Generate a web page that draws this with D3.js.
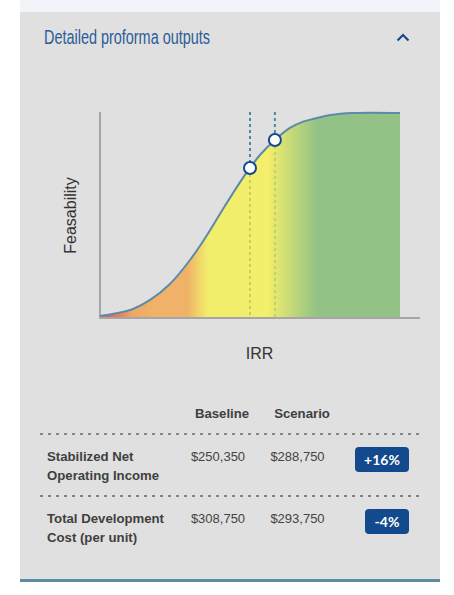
<!DOCTYPE html>
<html><head><meta charset="utf-8">
<script src="https://cdn.jsdelivr.net/npm/d3@7"></script>
<style>html,body{margin:0;padding:0;background:#fff;overflow:hidden}svg{display:block}text{font-family:"Liberation Sans",Arial,sans-serif}</style>
</head><body><svg id="c" width="454" height="595"></svg>
<script>
const irr = [0, 5, 11, 16.7, 23.3, 30, 35.7, 41, 46.7, 50, 53.3, 58.3, 63.3, 67.7, 71.7, 76.7, 84.3, 100];
const feas = [1, 2.2, 4.4, 8.8, 16.6, 28.3, 40.5, 53.2, 66.3, 73.2, 79.5, 86.8, 92.7, 95.8, 97.3, 99, 100, 100];
const markerIrr = [50, 58.3];
const markerFeas = [73.2, 86.8];
const rowLabels = [["Stabilized Net", "Operating Income"], ["Total Development", "Cost (per unit)"]];
const baseline = ["$250,350", "$308,750"];
const scenario = ["$288,750", "$293,750"];
const changes = ["+16%", "-4%"];
const columns = ["Baseline", "Scenario"];

const svg = d3.select("#c");
svg.append("rect").attr("x",20).attr("y",0).attr("width",420).attr("height",12).attr("fill","#f1f5f9");
svg.append("rect").attr("x",20).attr("y",12).attr("width",420).attr("height",567).attr("fill","#e0e0e0");
svg.append("rect").attr("x",20).attr("y",579).attr("width",420).attr("height",3).attr("fill","#5b8ba3");

svg.append("text").attr("x",44).attr("y",44).attr("font-size",20.5).attr("fill","#2a5d98")
  .attr("textLength",166).attr("lengthAdjust","spacingAndGlyphs")
  .style("font-family",'"Liberation Sans Narrow","Liberation Sans",sans-serif').text("Detailed proforma outputs");
svg.append("path").attr("d",d3.line()([[397.5,40.5],[403,35],[408.5,40.5]])).attr("fill","none").attr("stroke","#134a8e").attr("stroke-width",2.2);

const x = d3.scaleLinear().domain([0,100]).range([100,400]);
const y = d3.scaleLinear().domain([0,100]).range([318,113]);
const defs = svg.append("defs");
const grad = defs.append("linearGradient").attr("id","g").attr("gradientUnits","userSpaceOnUse")
  .attr("x1",x(0)).attr("x2",x(100)).attr("y1",0).attr("y2",0);
[[3,"#e8605a"],[11,"#eea864"],[18,"#efb268"],[29,"#efb268"],[36,"#f2ee6c"],[56,"#f3ee6c"],[72.5,"#92c285"],[100,"#92c285"]]
  .forEach(([o,c])=>grad.append("stop").attr("offset",o+"%").attr("stop-color",c));

const pts = irr.map((d,i)=>[d,feas[i]]);
const cv = d3.curveCatmullRom.alpha(0.5);
svg.append("path").attr("fill","url(#g)")
  .attr("d",d3.area().x(d=>x(d[0])).y0(y(0)).y1(d=>y(d[1])).curve(cv)(pts));

markerIrr.forEach((m,i)=>{
  svg.append("line").attr("x1",x(m)).attr("x2",x(m)).attr("y1",112).attr("y2",y(markerFeas[i]))
    .attr("stroke","#4f86a6").attr("stroke-width",2).attr("stroke-dasharray","3 3");
  svg.append("line").attr("x1",x(m)).attr("x2",x(m)).attr("y1",y(markerFeas[i])).attr("y2",318)
    .attr("stroke","#bfd263").attr("stroke-width",2).attr("stroke-dasharray","3 3");
});

svg.append("line").attr("x1",100).attr("x2",100).attr("y1",112).attr("y2",319).attr("stroke","#a6a6a6").attr("stroke-width",2);
svg.append("line").attr("x1",99).attr("x2",420).attr("y1",318).attr("y2",318).attr("stroke","#a6a6a6").attr("stroke-width",2);
svg.append("path").attr("fill","none").attr("stroke","#5b8ba8").attr("stroke-width",2)
  .attr("d",d3.line().x(d=>x(d[0])).y(d=>y(d[1])).curve(cv)(pts));

markerIrr.forEach((m,i)=>svg.append("circle").attr("cx",x(m)).attr("cy",y(markerFeas[i])).attr("r",6)
  .attr("fill","#fff").attr("stroke","#134a8e").attr("stroke-width",2));

svg.append("text").attr("x",259.5).attr("y",358.5).attr("text-anchor","middle").attr("font-size",16).attr("fill","#333").text("IRR");
svg.append("text").attr("transform","translate(75.5,215.5) rotate(-90)").attr("text-anchor","middle").attr("font-size",16).attr("fill","#333").text("Feasability");

const colX = [222,302];
columns.forEach((c,i)=>svg.append("text").attr("x",colX[i]).attr("y",418).attr("text-anchor","middle")
  .attr("font-size",13.2).attr("font-weight",700).attr("fill","#3f3f3f").text(c));

[434,496].forEach(v=>svg.append("line").attr("x1",40).attr("x2",420).attr("y1",v).attr("y2",v)
  .attr("stroke","#666").attr("stroke-width",1.5).attr("stroke-dasharray","3 5"));

const rowY = [461,523];
rowLabels.forEach((ls,i)=>{
  ls.forEach((l,j)=>svg.append("text").attr("x",47).attr("y",rowY[i]+j*19).attr("font-size",13.2)
    .attr("font-weight",700).attr("fill","#3f3f3f").text(l));
  svg.append("text").attr("x",218).attr("y",rowY[i]).attr("text-anchor","middle").attr("font-size",13).attr("fill","#444").text(baseline[i]);
  svg.append("text").attr("x",297.5).attr("y",rowY[i]).attr("text-anchor","middle").attr("font-size",13).attr("fill","#444").text(scenario[i]);
  const w = i===0?54:44, r = 409;
  svg.append("rect").attr("x",r-w).attr("y",rowY[i]-14).attr("width",w).attr("height",25).attr("rx",4).attr("fill","#134a8e");
  svg.append("text").attr("x",r-w/2).attr("y",rowY[i]+3.5).attr("text-anchor","middle").attr("font-size",14).attr("font-weight",700)
    .style("font-family","Lato,sans-serif").attr("fill","#fff").text(changes[i]);
});
</script></body></html>
